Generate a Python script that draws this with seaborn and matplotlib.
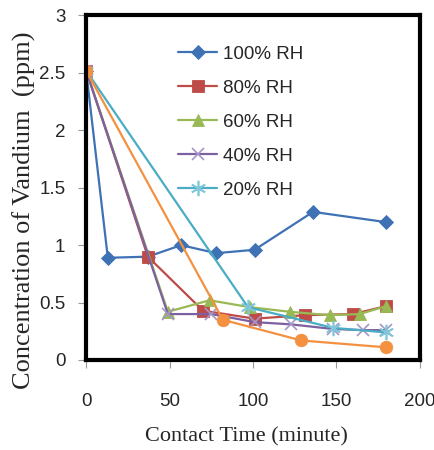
import matplotlib
matplotlib.use("Agg")
import matplotlib.pyplot as plt
import seaborn as sns
import pandas as pd

# ---------- data ----------
time_100 = [0, 13, 37, 57, 78, 101, 136, 180]
conc_100 = [2.52, 0.89, 0.90, 1.00, 0.93, 0.96, 1.29, 1.20]

time_80 = [0, 37, 70, 101, 131, 160, 180]
conc_80 = [2.52, 0.90, 0.43, 0.36, 0.39, 0.40, 0.47]

time_60 = [0, 49, 74, 98, 122, 146, 164, 180]
conc_60 = [2.52, 0.42, 0.52, 0.46, 0.42, 0.39, 0.40, 0.47]

time_40 = [0, 49, 75, 101, 123, 148, 166, 180]
conc_40 = [2.52, 0.40, 0.40, 0.33, 0.31, 0.27, 0.26, 0.26]

time_20 = [0, 97, 148, 180]
conc_20 = [2.52, 0.46, 0.28, 0.24]

time_extra = [0, 82, 129, 180]
conc_extra = [2.52, 0.35, 0.17, 0.11]

series_labels = ["100% RH", "80% RH", "60% RH", "40% RH", "20% RH", None]
x_ticks = [0, 50, 100, 150, 200]
y_ticks = [0, 0.5, 1, 1.5, 2, 2.5, 3]
y_tick_labels = ["0", "0.5", "1", "1.5", "2", "2.5", "3"]
# -----------------------------------------------------

sns.set_style("white")
plt.rcParams["font.family"] = ["Liberation Sans", "DejaVu Sans"]

dpi = 100
fig = plt.figure(figsize=(4.35, 4.5), dpi=dpi)
ax = fig.add_axes([0.198, 0.2, 0.767, 0.7656])

styles = [
    dict(color="#3F72B5", marker="D", markersize=7.5),
    dict(color="#BE4B48", marker="s", markersize=8),
    dict(color="#98B954", marker="^", markersize=8.5),
    dict(color="#7D60A0", marker="x", markersize=9, markeredgecolor="#A795C8", markeredgewidth=1.2),
    dict(color="#4AACC5", marker=(6, 2, 0), markersize=11, markeredgecolor="#7FC6DA", markeredgewidth=1.2),
    dict(color="#F39140", marker="o", markersize=9),
]
times = [time_100, time_80, time_60, time_40, time_20, time_extra]
concs = [conc_100, conc_80, conc_60, conc_40, conc_20, conc_extra]

for t, c, lab, st in zip(times, concs, series_labels, styles):
    df = pd.DataFrame({"time": t, "conc": c})
    sns.lineplot(data=df, x="time", y="conc", ax=ax, linewidth=1.6,
                 markeredgewidth=st.pop("markeredgewidth", 0.6),
                 markeredgecolor=st.pop("markeredgecolor", st["color"]),
                 legend=False, **st)

lines = ax.get_lines()
for ln, lab in zip(lines, series_labels):
    if lab:
        ln.set_label(lab)

ax.set_xlim(0, 200)
ax.set_ylim(0, 3)
ax.set_xticks(x_ticks)
ax.set_yticks(y_ticks)
ax.set_yticklabels(y_tick_labels)

for sp in ax.spines.values():
    sp.set_linewidth(3)
    sp.set_color("black")

ax.tick_params(axis="x", direction="out", length=6, width=0.8, color="#999999",
               pad=18, labelsize=13.5, bottom=True)
ax.tick_params(axis="y", direction="out", length=6, width=0.8, color="#999999",
               pad=9, labelsize=13.5, left=True)

ax.set_xlabel("Contact Time (minute)", family="Liberation Serif", fontsize=16)
ax.set_ylabel("Concentration of Vandium  (ppm)", family="Liberation Serif", fontsize=19)
ax.xaxis.set_label_coords(0.48, -0.224)
ax.yaxis.set_label_coords(-0.185, 0.436)
ax.xaxis.label.set_va("center")
ax.yaxis.label.set_va("center")

handles = [ln for ln, lab in zip(lines, series_labels) if lab]
ax.legend(handles=handles, loc="upper left", bbox_to_anchor=(0.275, 0.912),
          frameon=False, fontsize=13.5, handlelength=2.1, handletextpad=0.3,
          labelspacing=0.9, borderpad=0, borderaxespad=0)

fig.savefig("out.png", dpi=dpi)
